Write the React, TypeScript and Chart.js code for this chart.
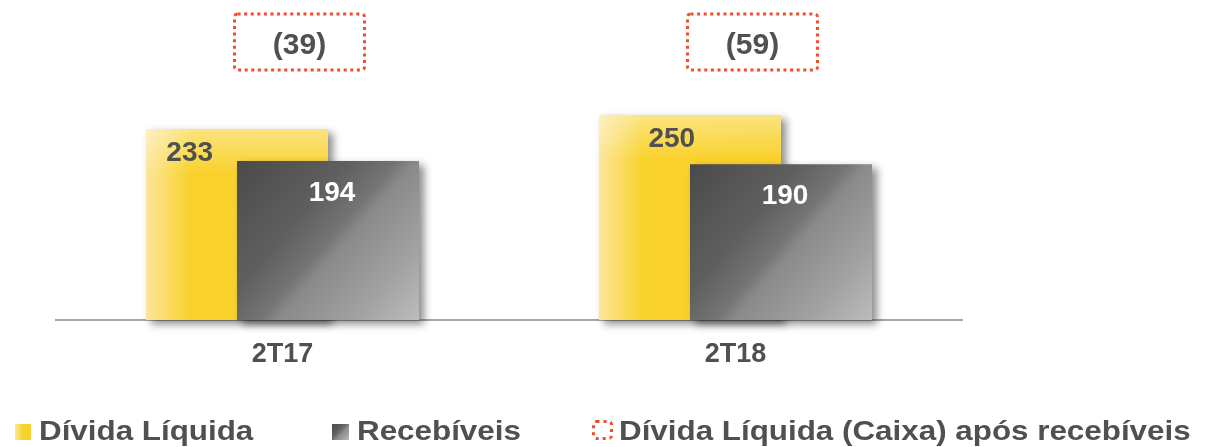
import React, { useEffect, useRef } from 'react';
import { Chart, registerables } from 'chart.js';

Chart.register(...registerables);

// ---- Data ----
const categories = ['2T17', '2T18'];
const dividaLiquida = [233, 250];
const recebiveis = [194, 190];
const dividaAposRecebiveis = [-39, -59];
const seriesNames = ['Dívida Líquida', 'Recebíveis', 'Dívida Líquida (Caixa) após recebíveis'];

// ---- Style ----
const FONT = '"Liberation Sans", Arial, Helvetica, sans-serif';
const TEXT = '#505050';
const RED = '#EF4D2D';
const YELLOW_IDX = 0;
const GRAY_IDX = 1;
const yellowLabelFrac = [0.24, 0.4];
const legendIconX = [15, 332, 592];
const legendTextX = [39, 357, 619];

function fmtParen(v: number) {
  return v < 0 ? `(${Math.abs(v)})` : `${v}`;
}

function yellowGradient(ctx: CanvasRenderingContext2D, left: number, right: number) {
  const g = ctx.createLinearGradient(left, 0, right, 0);
  g.addColorStop(0, '#FCE69B');
  g.addColorStop(0.24, '#F9D22C');
  g.addColorStop(1, '#F9D12A');
  return g;
}

function grayGradient(ctx: CanvasRenderingContext2D, l: number, t: number, r: number, b: number) {
  const g = ctx.createLinearGradient(l, t, r, b);
  g.addColorStop(0, '#4a4a4a');
  g.addColorStop(0.35, '#5f5f5f');
  g.addColorStop(0.5, '#747474');
  g.addColorStop(0.56, '#8a8a8a');
  g.addColorStop(0.8, '#a2a2a2');
  g.addColorStop(1, '#bcbcbc');
  return g;
}

function setShadow(ctx: CanvasRenderingContext2D) {
  ctx.shadowColor = 'rgba(0,0,0,0.45)';
  ctx.shadowBlur = 8;
  ctx.shadowOffsetX = 5;
  ctx.shadowOffsetY = 4;
}

function dottedRect(ctx: CanvasRenderingContext2D, x: number, y: number, w: number, h: number, lw: number, dash: number[]) {
  ctx.save();
  ctx.strokeStyle = RED;
  ctx.lineWidth = lw;
  ctx.setLineDash(dash);
  ctx.lineCap = 'butt';
  ctx.beginPath();
  if ((ctx as any).roundRect) (ctx as any).roundRect(x, y, w, h, 3);
  else ctx.rect(x, y, w, h);
  ctx.stroke();
  ctx.restore();
}

let lateDraw = false;

const barStylePlugin = {
  id: 'barStyle',
  beforeDatasetsDraw(chart: any) {
    const ctx = chart.ctx as CanvasRenderingContext2D;
    chart.data.datasets.forEach((_: any, di: number) => {
      const meta = chart.getDatasetMeta(di);
      meta.data.forEach((el: any) => {
        const { x, y, base, width } = el.getProps(['x', 'y', 'base', 'width'], true);
        const left = x - width / 2;
        const right = x + width / 2;
        el.options.backgroundColor =
          di === YELLOW_IDX ? yellowGradient(ctx, left, right) : grayGradient(ctx, left, y, right, base);
      });
    });
  },
  beforeDatasetDraw(chart: any, args: any) {
    if (args.index === GRAY_IDX && !lateDraw) return false;
    const ctx = chart.ctx as CanvasRenderingContext2D;
    ctx.save();
    setShadow(ctx);
    return true;
  },
  afterDatasetDraw(chart: any, args: any) {
    const ctx = chart.ctx as CanvasRenderingContext2D;
    ctx.restore();
    if (args.index === YELLOW_IDX) {
      // soft highlight on the top of the yellow bars
      args.meta.data.forEach((el: any) => {
        const { x, y, width } = el.getProps(['x', 'y', 'width'], true);
        const g = ctx.createLinearGradient(0, y, 0, y + 45);
        g.addColorStop(0, 'rgba(255,255,255,0.4)');
        g.addColorStop(1, 'rgba(255,255,255,0)');
        ctx.save();
        ctx.fillStyle = g;
        ctx.fillRect(x - width / 2, y, width, 45);
        ctx.restore();
      });
    }
  },
  afterDatasetsDraw(chart: any) {
    const ctx = chart.ctx as CanvasRenderingContext2D;
    // draw the "Recebíveis" bars on top of the yellow ones
    lateDraw = true;
    ctx.save();
    setShadow(ctx);
    chart.getDatasetMeta(GRAY_IDX).controller.draw();
    ctx.restore();
    lateDraw = false;

    // value labels
    ctx.save();
    ctx.font = `bold 28px ${FONT}`;
    ctx.textAlign = 'center';
    ctx.textBaseline = 'middle';
    chart.getDatasetMeta(YELLOW_IDX).data.forEach((el: any, i: number) => {
      const { x, y, width } = el.getProps(['x', 'y', 'width'], true);
      ctx.fillStyle = TEXT;
      ctx.fillText(String(dividaLiquida[i]), x - width / 2 + width * yellowLabelFrac[i], y + 24);
    });
    chart.getDatasetMeta(GRAY_IDX).data.forEach((el: any, i: number) => {
      const { x, y } = el.getProps(['x', 'y'], true);
      ctx.fillStyle = '#ffffff';
      ctx.fillText(String(recebiveis[i]), x + 4, y + 32);
    });

    // dotted boxes with net debt after receivables
    const xs = chart.scales.x;
    const top = chart.chartArea.top;
    categories.forEach((_, i) => {
      const cx = xs.getPixelForValue(i) + 17;
      const w = 130;
      dottedRect(ctx, cx - w / 2, top - 60, w, 56, 3, [3, 3.6]);
      ctx.fillStyle = TEXT;
      ctx.font = `bold 30px ${FONT}`;
      ctx.fillText(fmtParen(dividaAposRecebiveis[i]), cx, top - 28);
    });
    ctx.restore();
  },
  afterDraw(chart: any) {
    const ctx = chart.ctx as CanvasRenderingContext2D;
    ctx.save();
    // legend icons
    const yg = ctx.createLinearGradient(legendIconX[0], 0, legendIconX[0] + 16, 0);
    yg.addColorStop(0, '#FCE69B');
    yg.addColorStop(0.5, '#F9D22C');
    yg.addColorStop(1, '#F9D12A');
    ctx.fillStyle = yg;
    ctx.fillRect(legendIconX[0], 424, 16, 16);
    ctx.fillStyle = grayGradient(ctx, legendIconX[1], 424, legendIconX[1] + 17, 440);
    ctx.fillRect(legendIconX[1], 424, 17, 16);
    dottedRect(ctx, legendIconX[2] + 1.5, 421.5, 18, 17, 3, [3, 4]);
    // legend texts
    ctx.fillStyle = TEXT;
    ctx.font = `bold 28px ${FONT}`;
    ctx.textAlign = 'left';
    ctx.textBaseline = 'alphabetic';
    seriesNames.forEach((name, i) => {
      ctx.save();
      ctx.translate(legendTextX[i], 440);
      ctx.scale(1.12, 1);
      ctx.fillText(name, 0, 0);
      ctx.restore();
    });
    ctx.restore();
  },
};

export default function App() {
  const ref = useRef<HTMLCanvasElement>(null);
  useEffect(() => {
    const chart = new Chart(ref.current!, {
      type: 'bar',
      data: {
        labels: categories,
        datasets: [
          {
            label: seriesNames[0],
            data: dividaLiquida,
            backgroundColor: () => '#F9D12A',
            categoryPercentage: 182 / 453,
            barPercentage: 2,
            clip: false as any,
          },
          {
            label: seriesNames[1],
            data: recebiveis,
            backgroundColor: () => '#777777',
            categoryPercentage: 182 / 453,
            barPercentage: 2,
            clip: false as any,
          },
        ],
      },
      options: {
        animation: false,
        responsive: true,
        maintainAspectRatio: false,
        layout: { padding: { top: 74, left: 56, right: 244, bottom: 77 } },
        plugins: {
          legend: { display: false },
          tooltip: { enabled: false },
          title: { display: false },
        },
        scales: {
          x: {
            grid: { display: false, drawTicks: false },
            border: { display: true, color: '#a6a6a6', width: 2 },
            ticks: {
              color: TEXT,
              font: { family: FONT, size: 27, weight: 'bold' },
              padding: 18,
            },
            afterFit: (scale: any) => {
              scale.height = 50;
            },
          },
          y: {
            display: false,
            min: 0,
            max: 300,
          },
        },
      },
      plugins: [barStylePlugin],
    } as any);
    return () => chart.destroy();
  }, []);
  return (
    <div style={{ position: 'absolute', left: 0, top: 0, width: 1206, height: 447 }}>
      <canvas ref={ref} />
    </div>
  );
}
